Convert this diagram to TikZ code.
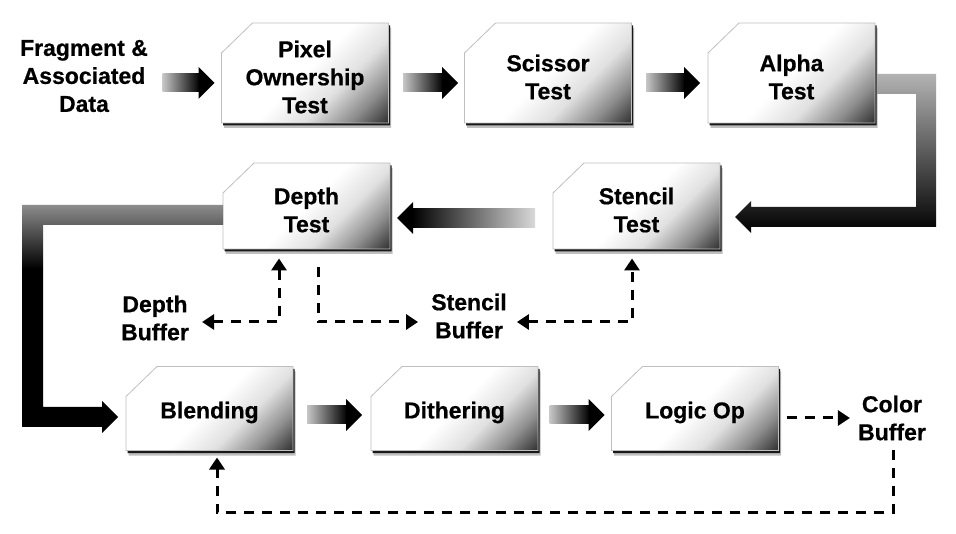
\documentclass[tikz,border=0pt]{standalone}
\usepackage{fontspec}
\setmainfont{Liberation Sans}[BoldFeatures={FakeBold=0.6}]
\usetikzlibrary{calc,arrows.meta,shadows}
\pgfdeclarehorizontalshading{boxshade}{100bp}{color(0bp)=(white); color(50bp)=(white); color(63bp)=(black!12); color(75bp)=(black!45); color(85bp)=(black!80); color(100bp)=(black!85)}
\pgfdeclareverticalshading{elbowtwo}{100bp}{color(0bp)=(black); color(61bp)=(black); color(75bp)=(black!45); color(100bp)=(black!45)}
\newcommand\pbox[4]{%
  \node[boxframe, minimum height=#3pt] (#1) at (#2) {};
  \path[boxfill] ($(#1.north west)+(0,30)$) -- ($(#1.north west)+(31,0)$) -- (#1.north east) -- (#1.south east) -- (#1.south west) -- cycle;
  \node[lbl] at ([yshift=-4pt]#1.center) {#4};
}
\newcommand\fatright[2]{%
  \shade[left color=black!22, middle color=black!85, right color=black] ($(#1)+(-15-#2,-9)$) rectangle ($(#1)+(-15,9)$);
  \fill ($(#1)+(-16,-16)$) -- (#1) -- ($(#1)+(-16,16)$) -- cycle;
}
\begin{document}
\begin{tikzpicture}[x=1pt,y=-1pt,
  >={Triangle[length=12pt,width=15pt]},
  boxframe/.style={rectangle, minimum width=167pt, inner sep=0pt, outer sep=0pt},
  boxfill/.style={shade, shading=boxshade, shading angle=-45, draw=black!25, line width=0.8pt,
     general shadow={fill=black!25, shadow xshift=2.5pt, shadow yshift=-5pt},
     general shadow={fill=black!90, shadow xshift=1.5pt, shadow yshift=-2.5pt}},
  lbl/.style={font=\bfseries\fontsize{23}{28}\selectfont, align=center, inner sep=2pt},
  dsh/.style={line width=3pt, dash pattern=on 10pt off 8pt}]
\fill[white] (0,0) rectangle (956,534);
\useasboundingbox (0,0) rectangle (956,534);

% boxes
\pbox{pix}{305,73}{100}{Pixel\\Ownership\\Test}
\pbox{sci}{548,73}{100}{Scissor\\Test}
\pbox{alp}{791.5,73}{100}{Alpha\\Test}
\pbox{ste}{636.5,206}{86}{Stencil\\Test}
\pbox{dep}{306.5,206}{86}{Depth\\Test}
\pbox{ble}{209.5,408.5}{84}{Blending}
\pbox{dit}{454.5,408.5}{84}{Dithering}
\pbox{lop}{695,408.5}{84}{Logic Op}

% labels
\node[lbl] (frag) at (84,76) {Fragment \&\\Associated\\Data};
\node[lbl] (dbuf) at (155,318) {Depth\\Buffer};
\node[lbl] (sbuf) at (469,316) {Stencil\\Buffer};
\node[lbl] (cbuf) at (892,418) {Color\\Buffer};

% straight fat arrows
\coordinate (t1) at ($(pix.west)+(-7,10)$);
\fatright{t1}{37}
\coordinate (t2) at ($(sci.west)+(-6.5,10)$);
\fatright{t2}{40}
\coordinate (t3) at ($(alp.west)+(-8,10)$);
\fatright{t3}{39}
\coordinate (t4) at ($(dit.west)+(-9,6.5)$);
\fatright{t4}{40}
\coordinate (t5) at ($(lop.west)+(-7,6.5)$);
\fatright{t5}{40}

% stencil -> depth
\coordinate (t6) at ($(dep.east)+(7,12)$);
\shade[left color=black, middle color=black!85, right color=black!15] ($(t6)+(15,-9.5)$) rectangle ($(t6)+(138,9.5)$);
\fill ($(t6)+(16,-16)$) -- (t6) -- ($(t6)+(16,16)$) -- cycle;

% alpha -> stencil elbow
\coordinate (e1s) at ($(alp.east)+(2,11)$);
\coordinate (e1t) at ($(ste.east)+(15,11)$);
\coordinate (e1c) at ($(e1s)+(49,0)$);
\shade[top color=black!30, middle color=black, bottom color=black]
 ($(e1s)+(0,-10)$) -- ($(e1c)+(10,-10)$) -- ($(e1c|-e1t)+(10,10)$) -- ($(e1t)+(16,10)$) -- ($(e1t)+(16,16)$) -- (e1t) -- ($(e1t)+(16,-16)$) -- ($(e1t)+(16,-10)$) -- ($(e1c|-e1t)+(-10,-10)$) -- ($(e1c)+(-10,10)$) -- ($(e1s)+(0,10)$) -- cycle;

% depth -> blending elbow
\coordinate (e2s) at ($(dep.west)+(0,9)$);
\coordinate (e2t) at ($(ble.west)+(-8,8.5)$);
\coordinate (e2c) at ($(e2s)+(-190.5,0)$);
\shade[shading=elbowtwo]
 ($(e2s)+(0,-10)$) -- ($(e2c)+(-10.5,-10)$) -- ($(e2c|-e2t)+(-10.5,10)$) -- ($(e2t)+(-16,10)$) -- ($(e2t)+(-16,16)$) -- (e2t) -- ($(e2t)+(-16,-16)$) -- ($(e2t)+(-16,-10)$) -- ($(e2c|-e2t)+(10.5,-10)$) -- ($(e2c)+(10.5,10)$) -- ($(e2s)+(0,10)$) -- cycle;

% dashed connectors
\draw[dsh,<->] ($(dbuf.east)+(11,4)$) -| ($(dep.south)+(-27.5,9.5)$);
\draw[dsh,->] ($(dep.south)+(11.5,18)$) |- ($(sbuf.west)+(-11,6)$);
\draw[dsh,<->] ($(sbuf.east)+(8,6)$) -| ($(ste.south)+(-4.5,9.5)$);
\draw[dsh,->] ($(lop.east)+(8,9.5)$) -- ($(cbuf.west)+(-6,0)$);
\draw[dsh,->] ($(cbuf.south)+(1,7)$) -- ++(0,63) -| ($(ble.south)+(7.5,7)$);
\end{tikzpicture}
\end{document}
